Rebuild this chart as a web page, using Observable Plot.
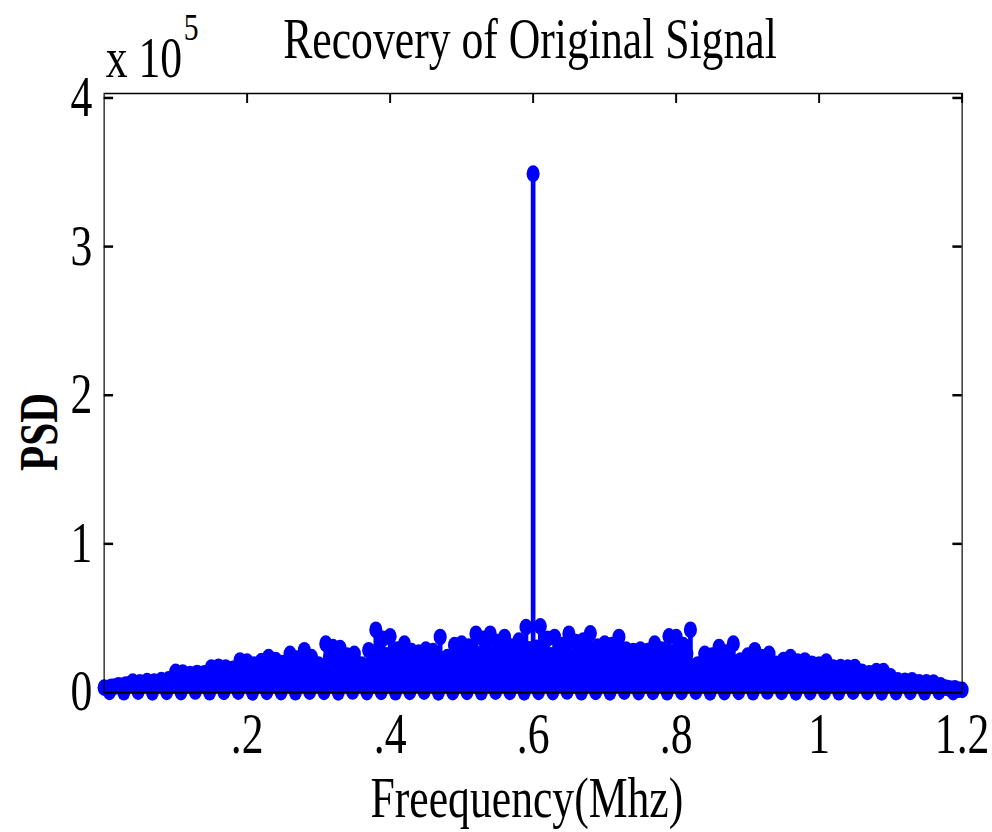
<!DOCTYPE html>
<html>
<head>
<meta charset="utf-8">
<script src="https://cdn.jsdelivr.net/npm/d3@7"></script>
<script src="https://cdn.jsdelivr.net/npm/@observablehq/plot@0.6"></script>
<style>
  html, body { margin: 0; padding: 0; background: #fff; overflow: hidden; }
  /* the figure is laid out wide and squeezed horizontally, like the exported MATLAB figure */
  #chart { width: 1272px; transform: scaleX(0.78); transform-origin: 0 0; }
  #chart svg { max-width: none; }
</style>
</head>
<body>
<div id="chart"></div>
<script>
// PSD of the recovered signal, in units of 10^5.
// Main bins every 0.01 MHz starting at 0 (bin 60 is the 0.6 MHz carrier).
const peakPsd = [
  0.033, 0.038, 0.048, 0.053, 0.073, 0.068, 0.076, 0.073, 0.083, 0.088,
  0.138, 0.133, 0.123, 0.131, 0.128, 0.168, 0.173, 0.168, 0.158, 0.215,
  0.208, 0.188, 0.211, 0.238, 0.218, 0.198, 0.260, 0.228, 0.284, 0.238,
  0.188, 0.328, 0.305, 0.298, 0.248, 0.260, 0.188, 0.284, 0.422, 0.361,
  0.378, 0.288, 0.328, 0.278, 0.268, 0.288, 0.278, 0.373, 0.238, 0.318,
  0.328, 0.308, 0.395, 0.361, 0.395, 0.338, 0.373, 0.308, 0.348, 0.440,
  3.490, 0.445, 0.361, 0.373, 0.318, 0.395, 0.338, 0.348, 0.398, 0.308,
  0.328, 0.318, 0.373, 0.288, 0.278, 0.288, 0.278, 0.328, 0.288, 0.378,
  0.373, 0.318, 0.422, 0.188, 0.260, 0.248, 0.305, 0.268, 0.328, 0.215,
  0.248, 0.284, 0.238, 0.260, 0.193, 0.218, 0.238, 0.208, 0.215, 0.193,
  0.188, 0.208, 0.168, 0.171, 0.168, 0.171, 0.138, 0.128, 0.143, 0.143,
  0.108, 0.082, 0.078, 0.082, 0.068, 0.068, 0.066, 0.048, 0.030, 0.028,
  0.018
];
// Intermediate bins, half a step after each main bin.
const midPsd = [
  0.030, 0.040, 0.045, 0.055, 0.050, 0.062, 0.055, 0.068, 0.065, 0.075,
  0.100, 0.095, 0.085, 0.110, 0.100, 0.120, 0.140, 0.110, 0.145, 0.155,
  0.140, 0.160, 0.175, 0.150, 0.170, 0.180, 0.175, 0.200, 0.170, 0.170,
  0.160, 0.230, 0.200, 0.220, 0.190, 0.175, 0.170, 0.240, 0.270, 0.250,
  0.220, 0.240, 0.200, 0.210, 0.230, 0.190, 0.240, 0.220, 0.190, 0.250,
  0.230, 0.270, 0.260, 0.280, 0.240, 0.270, 0.250, 0.230, 0.260, 0.290,
  0.300, 0.280, 0.250, 0.270, 0.290, 0.240, 0.260, 0.280, 0.250, 0.230,
  0.260, 0.240, 0.270, 0.220, 0.210, 0.230, 0.240, 0.250, 0.220, 0.270,
  0.240, 0.260, 0.170, 0.190, 0.210, 0.200, 0.220, 0.230, 0.180, 0.170,
  0.190, 0.200, 0.160, 0.170, 0.150, 0.160, 0.170, 0.145, 0.155, 0.135,
  0.145, 0.125, 0.135, 0.115, 0.125, 0.105, 0.100, 0.105, 0.090, 0.095,
  0.070, 0.060, 0.065, 0.052, 0.056, 0.043, 0.040, 0.035, 0.025, 0.020
];
// Near-zero bins every 0.02 MHz, starting at 0.0075 MHz.
const floorPsd = [
  0.004, 0.002, 0.006, 0.001, 0.005, 0.003, 0.007, 0.002, 0.004, 0.006,
  0.001, 0.005, 0.003, 0.002, 0.006, 0.004, 0.001, 0.007, 0.003, 0.005,
  0.002, 0.004, 0.006, 0.001, 0.003, 0.005, 0.002, 0.006, 0.004, 0.001,
  0.005, 0.003, 0.007, 0.002, 0.004, 0.001, 0.006, 0.003, 0.005, 0.002,
  0.004, 0.006, 0.001, 0.003, 0.005, 0.002, 0.007, 0.004, 0.001, 0.003,
  0.005, 0.002, 0.006, 0.004, 0.001, 0.003, 0.005, 0.002, 0.004, 0.003
];

const xTicks = [0.2, 0.4, 0.6, 0.8, 1, 1.2];
const xTickLabels = [".2", ".4", ".6", ".8", "1", "1.2"];
const yTicks = [0, 1, 2, 3, 4];
const yTickLabels = ["0", "1", "2", "3", "4"];

const titleText = "Recovery of Original Signal";
const xLabel = "Freequency(Mhz)";
const yLabel = "PSD";
const exponentBase = "x 10";
const exponent = "5";

// frequency of each bin (MHz)
const bins = [
  ...floorPsd.map((v, k) => ({ f: 0.0075 + 0.02 * k, psd: v })),
  ...midPsd.map((v, k) => ({ f: (k + 0.5) * 0.01, psd: v })),
  ...peakPsd.map((v, k) => ({ f: k * 0.01, psd: v }))
];

const squeeze = 0.78;
const W = 1272, H = 832;
const mL = 133, mR = 39, mT = 93, mB = 140;
const fw = W - mL - mR, fh = H - mT - mB;
const blue = "#0000ff";
const fs = 56;

const chart = Plot.plot({
  width: W,
  height: H,
  marginLeft: mL,
  marginRight: mR,
  marginTop: mT,
  marginBottom: mB,
  style: {
    fontFamily: "'Liberation Serif', 'Times New Roman', serif",
    fontSize: fs + "px",
    background: "#fff",
    color: "#000"
  },
  x: {
    domain: [0, 1.2],
    ticks: xTicks,
    tickSize: 0,
    tickPadding: 21,
    tickFormat: d => xTickLabels[xTicks.findIndex(t => Math.abs(t - d) < 1e-9)],
    label: null
  },
  y: {
    domain: [0, 4.03],
    ticks: yTicks,
    tickSize: 0,
    tickPadding: 15,
    tickFormat: d => yTickLabels[yTicks.indexOf(d)],
    label: null
  },
  marks: [
    // inward ticks on the top, left and right edges
    Plot.tickX(xTicks, { x: d => d, insetBottom: fh - 10, stroke: "#000", strokeWidth: 2.5 }),
    Plot.tickY(yTicks, { y: d => d, insetRight: fw - 12, stroke: "#000", strokeWidth: 2.5 }),
    Plot.tickY(yTicks, { y: d => d, insetLeft: fw - 12, stroke: "#000", strokeWidth: 2.5 }),
    // stems and markers
    Plot.ruleX(bins, { x: "f", y1: 0, y2: "psd", stroke: blue, strokeWidth: 6 }),
    Plot.dot(bins, { x: "f", y: "psd", r: 8.4, fill: blue }),
    // stem baseline
    Plot.ruleY([0], { stroke: "#000", strokeWidth: 2.5 }),
    Plot.frame({ stroke: "#000", strokeWidth: 1.5 }),
    // title and labels
    Plot.text([titleText], { text: d => d, frameAnchor: "top", lineAnchor: "middle", dy: -53, dx: -4, fontSize: fs }),
    Plot.text([exponentBase], { text: d => d, frameAnchor: "top-left", textAnchor: "start", lineAnchor: "middle", dy: -34, dx: 2, fontSize: fs }),
    Plot.text([exponent], { text: d => d, frameAnchor: "top-left", textAnchor: "start", lineAnchor: "middle", dy: -66, dx: 102, fontSize: 38 }),
    Plot.text([xLabel], { text: d => d, frameAnchor: "bottom", lineAnchor: "middle", dy: 107, dx: -8, fontSize: fs }),
    Plot.text([yLabel], { text: d => d, frameAnchor: "left", lineAnchor: "middle", rotate: -90, dx: -83, fontSize: 70, fontWeight: "bold" })
  ]
});

document.getElementById("chart").append(chart);

// the bold axis name sits a little below the middle of the frame and is drawn narrow along its length
for (const t of chart.querySelectorAll("text")) {
  if (t.textContent === yLabel) {
    t.setAttribute("textLength", 78);
    t.setAttribute("lengthAdjust", "spacingAndGlyphs");
    const r = t.getBoundingClientRect();
    const shiftY = 432 - (r.top + r.height / 2);
    const shiftX = (39 - (r.left + r.width / 2)) / squeeze;
    t.setAttribute("transform", `translate(${shiftX},${shiftY}) ` + (t.getAttribute("transform") || ""));
  }
}
</script>
</body>
</html>
